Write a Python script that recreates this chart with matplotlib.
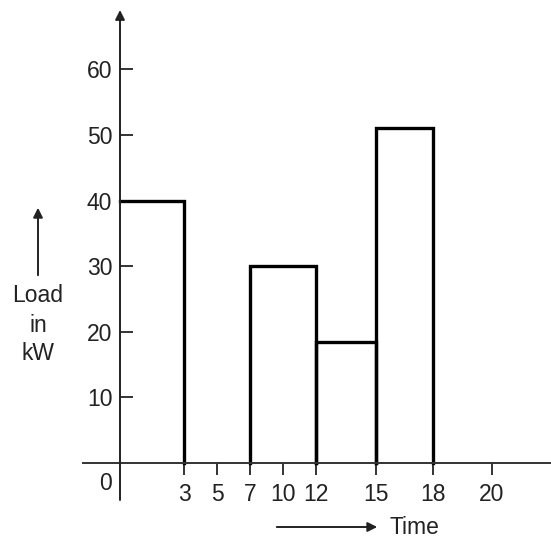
import numpy as np
import matplotlib.pyplot as plt
from matplotlib.patches import FancyArrowPatch

# dados da curva de carga
tempos_inicio = [0, 7, 12, 15]
tempos_fim = [3, 12, 15, 18]
cargas = [40, 30, 18.5, 51]

ticks_x = [3, 5, 7, 10, 12, 15, 18, 20]
ticks_y = [10, 20, 30, 40, 50, 60]

# escala esquematica do eixo do tempo (nao linear, como no desenho)
escala_t = [-10, 0, 3, 5, 7, 10, 12, 15, 18, 20, 30]
escala_p = [-213, 0, 64, 97, 130, 163, 196, 256, 313, 372, 667]


def ida(t):
    return np.interp(t, escala_t, escala_p)


def volta(p):
    return np.interp(p, escala_p, escala_t)


plt.rcParams['font.family'] = ['Liberation Sans', 'DejaVu Sans']
cor_texto = '#222222'
tam = 16.5

fig = plt.figure(figsize=(5.51, 5.41), dpi=100)
ax = fig.add_axes([83 / 551, 41 / 541, 468 / 551, 490 / 541])
ax.set_xscale('function', functions=(ida, volta))
ax.set_xlim(volta(-37), volta(431))
ax.set_ylim(-5.64, 69.05)

# contorno de cada barra (sem o lado esquerdo quando coincide com o eixo)
for t0, t1, c in zip(tempos_inicio, tempos_fim, cargas):
    if t0 == 0:
        xs, ys = [t0, t1, t1], [c, c, 0]
    else:
        xs, ys = [t0, t0, t1, t1], [0, c, c, 0]
    ax.plot(xs, ys, color='black', linewidth=2.4, solid_joinstyle='miter',
            zorder=2)

# eixos
for lado in ['top', 'right', 'left']:
    ax.spines[lado].set_visible(False)
ax.spines['bottom'].set_position(('data', 0))
ax.spines['bottom'].set_linewidth(1.4)
ax.spines['bottom'].set_color('#333333')
ax.annotate('', xy=(0, 69.05), xytext=(0, -5.64),
            arrowprops=dict(arrowstyle='-|>', color='#222222', lw=1.4,
                            mutation_scale=14, shrinkA=0, shrinkB=0))

ax.set_xticks(ticks_x)
ax.set_xticklabels([str(t) for t in ticks_x])
ax.xaxis.set_minor_locator(plt.NullLocator())
ax.set_yticks(ticks_y)
ax.set_yticklabels([str(v) for v in ticks_y])
ax.tick_params(axis='x', direction='out', length=8.6, width=1.4,
               color='#333333', pad=5.5, labelsize=tam, labelcolor=cor_texto)
ax.yaxis.set_ticks_position('left')
ax.spines['left'].set_position(('data', 0))
ax.tick_params(axis='y', direction='in', length=9.5, width=1.4,
               color='#333333', pad=5.5, labelsize=tam, labelcolor=cor_texto)

ax.annotate('0', xy=(0, 0), xytext=(-10.8, -14.5), textcoords='offset points',
            ha='center', va='center', fontsize=tam, color=cor_texto)

# rotulos com setas
for palavra, y in zip(['Load', 'in', 'kW'], [296, 325, 353]):
    fig.text(38 / 551, (541 - y) / 541, palavra, ha='center', va='center',
             fontsize=tam, color=cor_texto)
fig.add_artist(FancyArrowPatch(
    (38 / 551, (541 - 278) / 541), (38 / 551, (541 - 205) / 541),
    transform=fig.transFigure, arrowstyle='-|>', mutation_scale=14,
    color='#222222', lw=1.4))
fig.text(390 / 551, 14 / 541, 'Time', ha='left', va='center',
         fontsize=tam, color=cor_texto)
fig.add_artist(FancyArrowPatch(
    (274 / 551, 14 / 541), (380 / 551, 14 / 541), transform=fig.transFigure,
    arrowstyle='-|>', mutation_scale=14, color='#222222', lw=1.4))

fig.savefig('out.png', dpi=100)
